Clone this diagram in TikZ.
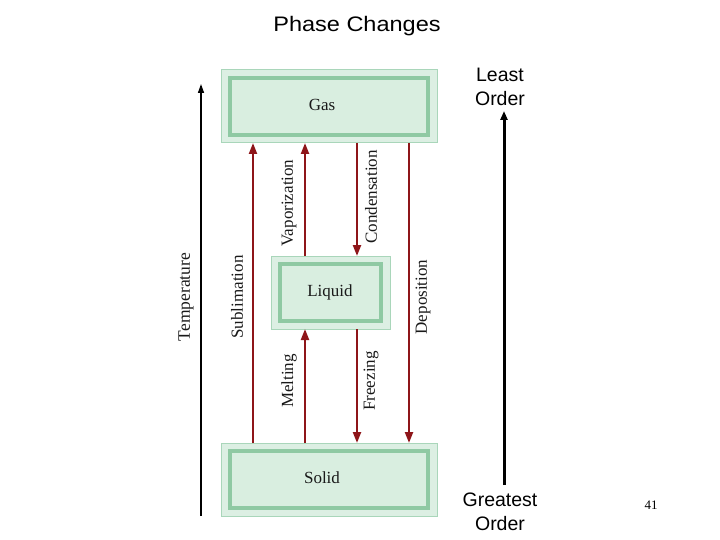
\documentclass[tikz,border=0pt]{standalone}
\usepackage{fontspec}
\setmainfont{Liberation Serif}
\newfontfamily\arial{Liberation Sans}
\usetikzlibrary{arrows.meta}
\definecolor{boxout}{HTML}{DCEFE3}
\definecolor{boxedge}{HTML}{A9D6BA}
\definecolor{boxband}{HTML}{8FC9A3}
\definecolor{boxfill}{HTML}{D9EEE0}
\definecolor{arrred}{HTML}{8E1519}
\tikzset{
  phasebox/.style={draw=boxedge, fill=boxout, line width=1pt},
  phaseinner/.style={draw=boxband, fill=boxfill, line width=3.5pt},
  boxlabel/.style={font=\fontsize{17}{19}\selectfont, text=black!90},
  trans/.style={draw=arrred, line width=2.2pt, -{Triangle[length=11pt,width=8pt]}},
  translabel/.style={font=\fontsize{17}{19}\selectfont, rotate=90, text=black!90},
  sanslabel/.style={font=\arial\fontsize{19.5}{24}\selectfont, align=center},
}
\begin{document}
\begin{tikzpicture}[x=1pt,y=-1pt]
\useasboundingbox (0,0) rectangle (720,540);
% title
\node[font=\arial\fontsize{21}{24}\selectfont, xscale=1.12] (title) at (357,26) {Phase Changes};
% boxes
\draw[phasebox] (221,70) rectangle (437,143);
\draw[phaseinner] (230,78) rectangle (428,135);
\node[boxlabel] (gas) at (322,105) {Gas};
\draw[phasebox] (271,256) rectangle (390,329);
\draw[phaseinner] (280,264) rectangle (381,321);
\node[boxlabel] (liquid) at (330,292) {Liquid};
\draw[phasebox] (221,443) rectangle (437,516);
\draw[phaseinner] (230,451) rectangle (428,508);
\node[boxlabel] (solid) at (322,478) {Solid};
% anchor coordinates
\coordinate (subA) at (253,443); \coordinate (subB) at (253,143);
\coordinate (vapA) at (305,256); \coordinate (vapB) at (305,143);
\coordinate (conA) at (357,143); \coordinate (conB) at (357,256);
\coordinate (depA) at (409,143); \coordinate (depB) at (409,443);
\coordinate (melA) at (305,443); \coordinate (melB) at (305,329);
\coordinate (frzA) at (357,329); \coordinate (frzB) at (357,443);
\draw[trans] (subA) -- (subB);
\draw[trans] (vapA) -- (vapB);
\draw[trans] (conA) -- (conB);
\draw[trans] (depA) -- (depB);
\draw[trans] (melA) -- (melB);
\draw[trans] (frzA) -- (frzB);
\node[translabel] (lsub) at (237,297) {Sublimation};
\node[translabel] (lvap) at (289,203) {Vaporization};
\node[translabel] (lcon) at (371,197) {Condensation};
\node[translabel] (ldep) at (423,297) {Deposition};
\node[translabel] (lmel) at (289,381) {Melting};
\node[translabel] (lfrz) at (371,381) {Freezing};
% temperature
\coordinate (tA) at (201,516); \coordinate (tB) at (201,84);
\draw[line width=1.5pt, -{Triangle[length=9pt,width=6pt]}] (tA) -- (tB);
\node[translabel, font=\fontsize{17.5}{19}\selectfont] (ltemp) at (186,297) {Temperature};
% order arrow
\node[sanslabel] (least) at (500,87) {Least\\Order};
\node[sanslabel] (great) at (500,512) {Greatest\\Order};
\coordinate (oA) at (504,485); \coordinate (oB) at (504,111);
\draw[line width=3pt, -{Triangle[length=9pt,width=7pt]}] (oA) -- (oB);
\node[font=\fontsize{13}{15}\selectfont] (pg) at (651,505) {41};
\end{tikzpicture}
\end{document}
